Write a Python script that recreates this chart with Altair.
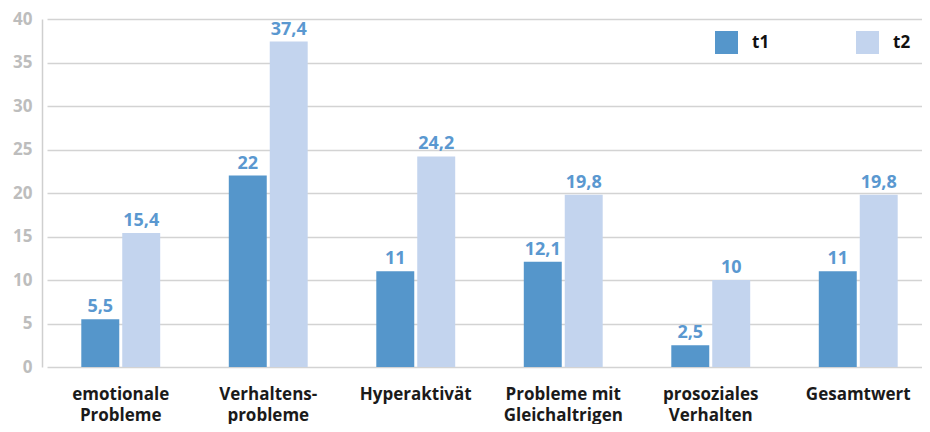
import altair as alt
import pandas as pd

categories = ["emotionale|Probleme", "Verhaltens-|probleme", "Hyperaktivät",
              "Probleme mit|Gleichaltrigen", "prosoziales|Verhalten", "Gesamtwert"]
series = ["t1", "t2"]
t1_values = [5.5, 22, 11, 12.1, 2.5, 11]
t2_values = [15.4, 37.4, 24.2, 19.8, 10, 19.8]
y_ticks = [0, 5, 10, 15, 20, 25, 30, 35, 40]
colors = ["#5596CB", "#C3D4EE"]

rows = []
for c, a, b in zip(categories, t1_values, t2_values):
    rows.append({"cat": c, "series": "t1", "value": a})
    rows.append({"cat": c, "series": "t2", "value": b})
df = pd.DataFrame(rows)

FONT = "Open Sans"

x_enc = alt.X(
    "cat:N", sort=categories, title=None,
    scale=alt.Scale(range=[5, 890], paddingInner=0.465, paddingOuter=0.2325),
    axis=alt.Axis(labelExpr="split(datum.label, '|')", labelAngle=0,
                  labelFont=FONT, labelFontSize=17, labelFontWeight="bold",
                  labelColor="#1a1a1a", labelPadding=19, labelLineHeight=21,
                  domain=False, ticks=False, grid=False, labelBaseline="top"),
)
xo_enc = alt.XOffset("series:N", sort=series,
                     scale=alt.Scale(paddingInner=0.073, paddingOuter=0))
y_enc = alt.Y(
    "value:Q", title=None,
    scale=alt.Scale(domain=[0, 40], nice=False),
    axis=alt.Axis(values=y_ticks, labelFont=FONT, labelFontSize=17,
                  labelFontWeight="bold", labelColor="#bdbdbd", labelPadding=10,
                  domain=True, domainColor="#cfcfcf", domainWidth=1.5,
                  ticks=False, grid=True, gridColor="#d3d3d3", gridWidth=1.5),
)

base = alt.Chart(df).encode(x=x_enc, xOffset=xo_enc)

bars = base.mark_bar().encode(
    y=y_enc,
    color=alt.Color(
        "series:N", sort=series,
        scale=alt.Scale(domain=series, range=colors),
        legend=alt.Legend(
            title=None, orient="none", legendX=673, legendY=12,
            direction="horizontal", symbolType="square", symbolSize=529,
            symbolStrokeWidth=0, symbolOpacity=1, labelFont=FONT,
            labelFontSize=17, labelFontWeight="bold", labelColor="#111111",
            labelOffset=14, columnPadding=86, padding=0,
        ),
    ),
)

labels = base.transform_calculate(
    lab="replace(format(datum.value, ''), '.', ',')"
).mark_text(
    font=FONT, fontSize=18, fontWeight="bold", color="#5A98D0",
    baseline="alphabetic", dy=-7,
).encode(y=alt.Y("value:Q"), text="lab:N")

chart = alt.layer(bars, labels).properties(
    width=880, height=348,
    autosize=alt.AutoSizeParams(type="none"),
    padding={"left": 34, "top": 11, "right": 0, "bottom": 57},
).configure_view(stroke=None)

chart.save("out.html", embed_options={"renderer": "svg", "actions": False})
